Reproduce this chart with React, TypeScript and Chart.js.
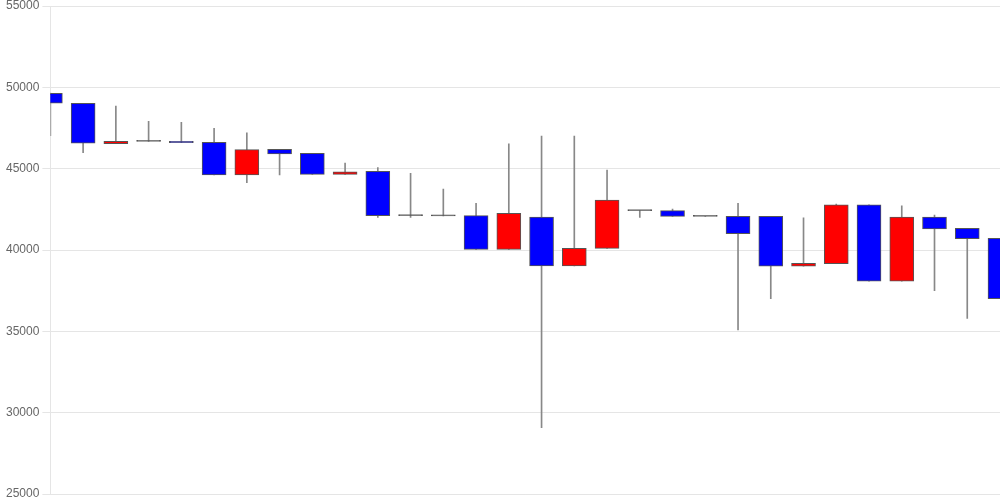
import React, { useEffect, useRef } from "react";
import { Chart, registerables } from "chart.js";

Chart.register(...registerables);

const labels: string[] = Array.from({ length: 30 }, (_, i) => String(i + 1));

const openValues: number[] = [49630, 49020, 46540, 46680, 46680, 46620, 44610, 46190, 45950, 44650, 44840, 42110, 42100, 42110, 40040, 42030, 39020, 40100, 42420, 42420, 42070, 42070, 42070, 39000, 39160, 42770, 38090, 42030, 41330, 40720];
const highValues: number[] = [49650, 49020, 48850, 47910, 47850, 47480, 47210, 46190, 45950, 45350, 45060, 44720, 43750, 42870, 46520, 47010, 47010, 44920, 42420, 42520, 42070, 42870, 42070, 41970, 42830, 42770, 42710, 42150, 41330, 40720];
const lowValues: number[] = [47030, 45980, 46540, 46680, 46600, 44610, 44140, 44610, 44650, 44650, 42010, 42010, 42100, 40040, 40040, 29080, 39020, 40100, 42010, 42070, 42070, 35080, 37010, 39000, 39160, 38090, 38090, 37500, 35800, 37010];
const closeValues: number[] = [49020, 46560, 46680, 46680, 46600, 44610, 46170, 45900, 44650, 44810, 42110, 42110, 42100, 40040, 42260, 39020, 40100, 43070, 42420, 42070, 42070, 41000, 39000, 39180, 42770, 38090, 42030, 41290, 40700, 37010];

const yTicks: number[] = [25000, 30000, 35000, 40000, 45000, 50000, 55000];

export default function App() {
  const ref = useRef<HTMLCanvasElement | null>(null);

  useEffect(() => {
    if (!ref.current) return;
    const bodyColors = openValues.map((o, i) =>
      closeValues[i] > o ? "#ff0000" : closeValues[i] < o ? "#0000ff" : "#555555"
    );
    const chart = new Chart(ref.current, {
      type: "bar",
      data: {
        labels,
        datasets: [
          {
            label: "body",
            data: openValues.map((o, i) => [o, closeValues[i]]) as any,
            backgroundColor: bodyColors,
            borderColor: "#555555",
            borderWidth: 1,
            borderSkipped: false,
            barThickness: 24,
            minBarLength: 1,
            grouped: false,
            clip: 0,
          } as any,
          {
            label: "wick",
            data: lowValues.map((l, i) => [l, highValues[i]]) as any,
            backgroundColor: "#888888",
            borderWidth: 0,
            barThickness: 1,
            grouped: false,
            clip: 0,
          } as any,
        ],
      },
      options: {
        responsive: false,
        animation: false,
        layout: { padding: { left: 3 } },
        plugins: { legend: { display: false }, tooltip: { enabled: false } },
        scales: {
          x: {
            display: false,
            offset: false,
            grid: { display: false },
          },
          y: {
            min: 25000,
            max: 55000,
            afterBuildTicks: (axis: any) => {
              axis.ticks = yTicks.map((v) => ({ value: v }));
            },
            ticks: {
              color: "#666",
              font: { size: 12, lineHeight: 0.5 },
              callback: (v: any) => String(v),
            },
            grid: { color: "rgba(0,0,0,0.1)" },
          },
        },
      },
    });
    return () => chart.destroy();
  }, []);

  return (
    <canvas
      ref={ref}
      width={1000}
      height={500}
      style={{ position: "absolute", left: 0, top: 0, display: "block" }}
    />
  );
}
